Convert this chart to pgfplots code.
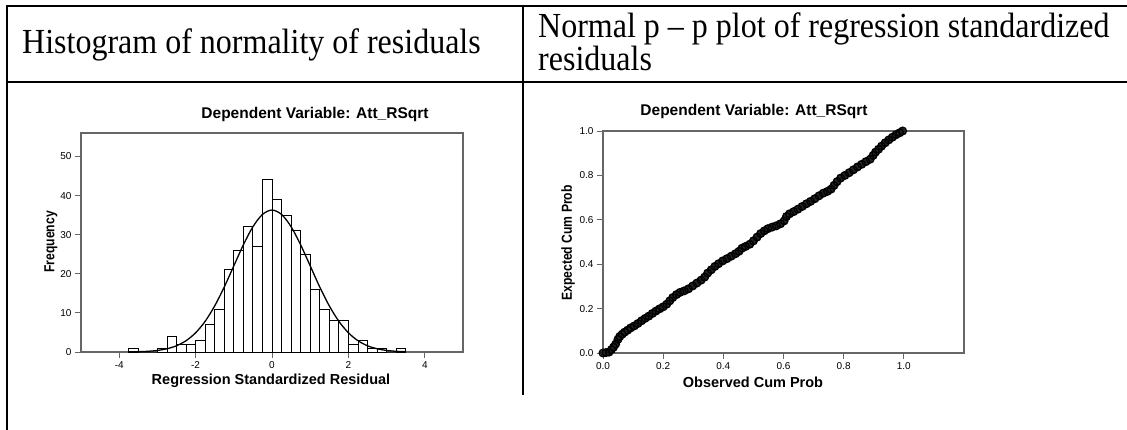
\documentclass[border=0pt]{standalone}
\usepackage{fontspec}
\setmainfont{Liberation Serif}
\setsansfont{Liberation Sans}
\usepackage{graphicx}
\usepackage{pgfplots}
\usepackage{pgfplotstable}
\pgfplotsset{compat=1.18}

\newcommand{\hdrfont}{\fontsize{32bp}{33bp}\selectfont}
\newcommand{\hdr}[1]{\scalebox{1}[1.1]{#1}}
\newcommand{\ttlfont}{\sffamily\bfseries\fontsize{15.5bp}{17bp}\selectfont}
\newcommand{\lblfont}{\sffamily\bfseries\fontsize{14.5bp}{16bp}\selectfont}
\newcommand{\tkfont}{\sffamily\fontsize{10bp}{12bp}\selectfont}

\pgfplotsset{
  spss/.style={
    scale only axis,
    axis line style={black!60, line width=1.1bp},
    tick style={black!60, line width=1bp},
    tick align=outside,
    major tick length=6bp,
    tick pos=left,
    ticklabel style={font=\tkfont},
    /pgf/number format/assume math mode=true,
    clip=false,
  },
}

% observed vs expected cumulative probability, read along the band
\pgfplotstableread{
obs   exp
0.000 0.000
0.010 0.002
0.020 0.004
0.028 0.015
0.035 0.026
0.042 0.040
0.050 0.062
0.056 0.075
0.064 0.085
0.072 0.094
0.082 0.103
0.092 0.113
0.104 0.122
0.116 0.133
0.128 0.145
0.140 0.156
0.152 0.166
0.164 0.178
0.176 0.189
0.188 0.199
0.200 0.208
0.212 0.220
0.222 0.235
0.232 0.250
0.244 0.263
0.256 0.273
0.270 0.280
0.284 0.289
0.298 0.302
0.312 0.315
0.326 0.328
0.338 0.342
0.348 0.360
0.360 0.375
0.372 0.390
0.384 0.402
0.398 0.415
0.412 0.425
0.426 0.436
0.440 0.447
0.452 0.458
0.462 0.472
0.474 0.480
0.488 0.490
0.500 0.505
0.512 0.522
0.524 0.538
0.536 0.550
0.548 0.560
0.562 0.567
0.576 0.573
0.590 0.582
0.602 0.595
0.610 0.615
0.620 0.627
0.634 0.637
0.648 0.648
0.662 0.660
0.676 0.672
0.690 0.683
0.704 0.695
0.718 0.708
0.732 0.720
0.746 0.728
0.758 0.738
0.768 0.755
0.778 0.772
0.790 0.788
0.804 0.800
0.818 0.812
0.832 0.825
0.846 0.838
0.860 0.850
0.874 0.862
0.888 0.873
0.898 0.890
0.906 0.905
0.916 0.918
0.926 0.932
0.938 0.947
0.950 0.960
0.962 0.972
0.974 0.983
0.986 0.992
0.996 1.000
}\pptable

\begin{document}
\begin{tikzpicture}
\useasboundingbox (0,0) rectangle (1127bp,-430bp);

% table rules and header cells
\begin{scope}[x=1bp,y=-1bp]
  \draw[line width=2bp] (6,6) -- (1127,6);
  \draw[line width=2.5bp] (7,5) -- (7,430);
  \draw[line width=2bp] (523,6) -- (523,395);
  \draw[line width=1.6bp] (7,82) -- (1127,82);
  \node[anchor=base west, inner sep=0, font=\hdrfont] at (22,54) {\hdr{Histogram of normality of residuals}};
  \node[anchor=base west, inner sep=0, font=\hdrfont] at (538,37) {\hdr{Normal p – p plot of regression standardized}};
  \node[anchor=base west, inner sep=0, font=\hdrfont] at (538,71) {\hdr{residuals}};
\end{scope}

% left: histogram of standardized residuals
\begin{axis}[spss,
  at={(81bp,-352bp)}, anchor=south west,
  width=382bp, height=219bp,
  xmin=-5, xmax=5, ymin=0, ymax=56,
  xtick={-4,-2,0,2,4},
  ytick={0,10,20,30,40,50},
]
\addplot[ybar interval, fill=white, draw=black, line width=0.9bp] coordinates {
  (-3.75,1) (-3.5,0) (-3.25,0) (-3.0,1) (-2.75,4) (-2.5,2) (-2.25,2)
  (-2.0,3) (-1.75,7) (-1.5,11) (-1.25,21) (-1.0,26) (-0.75,32) (-0.5,27)
  (-0.25,44) (0,39) (0.25,35) (0.5,31) (0.75,25) (1.0,16) (1.25,11)
  (1.5,8) (1.75,8) (2.0,2) (2.25,3) (2.5,1) (2.75,1) (3.0,0) (3.25,1) (3.5,1)
};
\addplot[smooth, black, line width=1.3bp] coordinates {
  (-3.75,0.03) (-3.5,0.08) (-3.25,0.18) (-3.0,0.40) (-2.75,0.83) (-2.5,1.59)
  (-2.25,2.89) (-2.0,4.91) (-1.75,7.85) (-1.5,11.79) (-1.25,16.62) (-1.0,22.02)
  (-0.75,27.40) (-0.5,32.03) (-0.25,35.18) (0,36.3) (0.25,35.18) (0.5,32.03)
  (0.75,27.40) (1.0,22.02) (1.25,16.62) (1.5,11.79) (1.75,7.85) (2.0,4.91)
  (2.25,2.89) (2.5,1.59) (2.75,0.83) (3.0,0.40) (3.25,0.18) (3.5,0.08)
};
\end{axis}

% right: normal P-P plot
\begin{axis}[spss,
  at={(603bp,-353bp)}, anchor=south west,
  width=361bp, height=222bp,
  xmin=0, xmax=1.2, ymin=0, ymax=1,
  xtick={0,0.2,0.4,0.6,0.8,1.0},
  ytick={0,0.2,0.4,0.6,0.8,1.0},
  xticklabel style={/pgf/number format/.cd, fixed, fixed zerofill, precision=1},
  yticklabel style={/pgf/number format/.cd, fixed, fixed zerofill, precision=1},
]
\addplot[black!85, line width=6.5bp, line join=round, line cap=round] table[x=obs, y=exp] {\pptable};
\addplot[only marks, mark=o, mark size=3.8bp, black, mark options={line width=1.4bp}] table[x=obs, y=exp] {\pptable};
\end{axis}

% chart titles and axis labels
\begin{scope}[x=1bp,y=-1bp]
  \node[font=\ttlfont] at (315,114) {Dependent Variable: Att\_RSqrt};
  \node[font=\ttlfont] at (754,111) {Dependent Variable: Att\_RSqrt};
  \node[font=\lblfont] at (271,381) {Regression Standardized Residual};
  \node[font=\lblfont] at (753,382) {Observed Cum Prob};
  \node[font=\lblfont, rotate=90] at (51,242) {\scalebox{0.84}[1]{Frequency}};
  \node[font=\lblfont, rotate=90] at (568,243) {\scalebox{0.84}[1]{Expected Cum Prob}};
\end{scope}
\end{tikzpicture}
\end{document}
